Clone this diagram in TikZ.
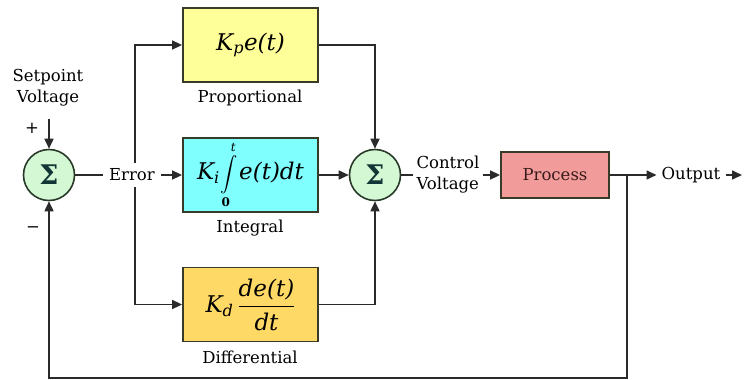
\documentclass[tikz,border=0pt]{standalone}
\usepackage{exscale}
\usepackage{fontspec}
\setmainfont{DejaVu Serif}
\usetikzlibrary{arrows.meta}
\definecolor{linec}{HTML}{2A2A2A}
\definecolor{boxborder}{HTML}{3A3A28}
\definecolor{pfill}{HTML}{FFFF99}
\definecolor{ifill}{HTML}{80FFFF}
\definecolor{dfill}{HTML}{FFD966}
\definecolor{procfill}{HTML}{F29B9B}
\definecolor{sumfill}{HTML}{D4F7D4}
\definecolor{sumborder}{HTML}{2A3A2A}
\definecolor{sigmac}{HTML}{123535}
\definecolor{proctext}{HTML}{3A1A1A}
\begin{document}
\begin{tikzpicture}[x=1pt,y=-1pt,
  conn/.style={draw=linec,line width=1.6pt},
  arr/.style={conn,-{Triangle[length=10pt,width=9pt]}},
  blockbox/.style={draw=boxborder,line width=1.8pt,minimum width=135pt,minimum height=74pt,inner sep=0pt,font=\fontsize{23}{26}\selectfont\itshape},
  sumnode/.style={circle,draw=sumborder,line width=1.6pt,fill=sumfill,minimum size=51pt,inner sep=0pt,font=\fontsize{27}{29}\selectfont\bfseries,text=sigmac},
  lab/.style={font=\fontsize{16.5}{21}\selectfont,inner sep=1pt}]
\useasboundingbox (0,0) rectangle (745,380);
% summing junctions
\node[sumnode] (s1) at (49,175) {Σ};
\node[sumnode] (s2) at (375,175) {Σ};
% setpoint
\node[lab,align=center] (sp) at (48,88) {Setpoint\\Voltage};
\coordinate (spin) at (49,119);
\draw[arr] (spin) -- (s1.north);
\node[lab] (plus) at (32,128) {+};
\node[lab] (minus) at (33,230) {−};
% error
\node[lab,inner sep=6pt] (err) at (132,175) {Error};
\draw[conn] (s1.east) -- (err.west);
% blocks
\node[blockbox,fill=pfill] (P) at (250.5,45) {K\textsubscript{p}e(t)};
\node[blockbox,fill=ifill] (I) at (250.5,175) {K\textsubscript{i}\hspace{1pt}{\fontsize{18}{19}\selectfont$\displaystyle\int\limits_{\raisebox{-2pt}{\fontsize{12}{12}\selectfont\upshape\bfseries 0}}^{\raisebox{1pt}{\fontsize{12}{12}\selectfont\itshape t}}$}\hspace{1pt}e(t)dt};
\node[blockbox,fill=dfill] (D) at (250.5,304.5) {K\textsubscript{d}\hspace{4pt}{$\displaystyle\frac{\mbox{\itshape de(t)}}{\mbox{\itshape dt}}$}};
\node[lab] (pl) at (250,98) {Proportional};
\node[lab] (il) at (250,228) {Integral};
\node[lab] (dl) at (250,357) {Differential};
% branches
\coordinate (jt) at (135,45);
\coordinate (jb) at (135,304.5);
\draw[arr] (err.east) -- (I.west);
\draw[arr] (jt |- err.north) -- (jt) -- (P.west);
\draw[arr] (jb |- err.south) -- (jb) -- (D.west);
% into second sum
\draw[arr] (P.east) -| (s2.north);
\draw[arr] (D.east) -| (s2.south);
\draw[arr] (I.east) -- (s2.west);
% control voltage and process
\node[lab,align=left,inner sep=3pt] (cv) at (448,175) {Control\\Voltage};
\draw[conn] (s2.east) -- (cv.west);
\node[draw=boxborder,line width=1.8pt,fill=procfill,minimum width=108pt,minimum height=46pt,inner sep=0pt,font=\fontsize{16.5}{19}\selectfont,text=proctext] (proc) at (555,175) {Process};
\draw[arr] (cv.east) -- (proc.west);
% output
\node[lab,inner sep=5pt] (out) at (691,175) {Output};
\draw[arr] (proc.east) -- (out.west);
\coordinate (oend) at (742,175);
\draw[arr] (out.east) -- (oend);
% feedback
\coordinate (fb) at (627,175);
\coordinate (fbb) at (627,378);
\draw[arr] (fb) -- (fbb) -| (s1.south);
\end{tikzpicture}
\end{document}
